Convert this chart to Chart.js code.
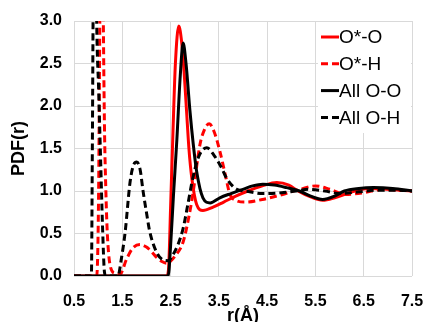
<!DOCTYPE html>
<html><head><meta charset="utf-8">
<script src="https://cdn.jsdelivr.net/npm/chart.js@4.4.1/dist/chart.umd.min.js"></script>
<style>html,body{margin:0;padding:0;background:#fff;}canvas{display:block;}</style>
</head><body>
<canvas id="c" width="426" height="322"></canvas>
<script>
const seriesLabels = ['O*-O', 'O*-H', 'All O-O', 'All O-H'];

// O*-O (red solid)
const rStarOO = [0.5, 2.42, 2.46, 2.50, 2.55, 2.60, 2.67, 2.73, 2.78, 2.83, 2.88, 2.94, 3.04, 3.17, 3.38, 3.6, 3.85, 4.1, 4.4, 4.7, 4.95, 5.14, 5.4, 5.65, 5.9, 6.2, 6.6, 7.0, 7.5];
const gStarOO = [0, 0, 0.1, 0.8, 1.7, 2.5, 2.94, 2.75, 2.4, 1.95, 1.5, 1.15, 0.84, 0.77, 0.81, 0.87, 0.94, 1.0, 1.06, 1.10, 1.07, 1.0, 0.93, 0.89, 0.92, 0.98, 1.03, 1.02, 1.0];

// O*-H (red dashed)
const rStarOH = [0.5, 0.97, 1.01, 1.04, 1.07, 1.10, 1.13, 1.16, 1.19, 1.25, 1.35, 1.45, 1.59, 1.72, 1.87, 2.0, 2.1, 2.21, 2.32, 2.42, 2.49, 2.6, 2.76, 2.88, 2.96, 3.11, 3.20, 3.30, 3.40, 3.52, 3.63, 3.73, 3.85, 4.05, 4.4, 4.76, 5.18, 5.5, 5.8, 6.13, 6.5, 6.9, 7.2, 7.5];
const gStarOH = [0, 0, 1.0, 3.5, 6.0, 3.5, 1.8, 1.0, 0.5, 0.12, 0.03, 0.02, 0.2, 0.33, 0.37, 0.34, 0.29, 0.22, 0.17, 0.15, 0.17, 0.24, 0.40, 0.70, 0.96, 1.55, 1.72, 1.79, 1.70, 1.47, 1.2, 0.96, 0.89, 0.87, 0.90, 0.95, 1.02, 1.06, 1.02, 0.96, 0.98, 1.02, 1.01, 1.0];

// All O-O (black solid)
const rAllOO = [0.5, 2.45, 2.50, 2.56, 2.63, 2.70, 2.76, 2.82, 2.90, 2.97, 3.04, 3.17, 3.32, 3.52, 3.75, 4.0, 4.2, 4.41, 4.65, 4.9, 5.17, 5.4, 5.65, 5.9, 6.1, 6.4, 6.7, 7.1, 7.5];
const gAllOO = [0, 0, 0.35, 0.95, 1.6, 2.35, 2.74, 2.5, 1.95, 1.55, 1.23, 0.92, 0.86, 0.92, 0.97, 1.02, 1.06, 1.08, 1.07, 1.04, 1.0, 0.94, 0.90, 0.94, 1.0, 1.03, 1.04, 1.03, 1.0];

// All O-H (black dashed)
const rAllOH = [0.5, 0.86, 0.88, 0.90, 0.93, 0.95, 0.97, 1.01, 1.05, 1.09, 1.13, 1.16, 1.41, 1.48, 1.56, 1.66, 1.73, 1.80, 1.87, 1.93, 2.0, 2.07, 2.21, 2.34, 2.45, 2.55, 2.66, 2.76, 2.86, 2.96, 3.08, 3.25, 3.4, 3.55, 3.66, 3.87, 4.05, 4.4, 4.8, 5.1, 5.35, 5.7, 6.0, 6.4, 6.8, 7.2, 7.5];
const gAllOH = [0, 0, 1.5, 3.5, 5.5, 4.2, 3.0, 2.2, 1.4, 0.6, 0.05, 0, 0, 0.2, 0.52, 1.1, 1.3, 1.34, 1.25, 1.0, 0.75, 0.52, 0.28, 0.19, 0.18, 0.25, 0.38, 0.56, 0.85, 1.15, 1.40, 1.51, 1.42, 1.28, 1.15, 1.02, 1.0, 0.97, 0.98, 1.0, 1.02, 1.0, 0.97, 0.99, 1.01, 1.01, 1.0];

const xTickLabels = ['0.5', '1.5', '2.5', '3.5', '4.5', '5.5', '6.5', '7.5'];
const yTickLabels = ['0.0', '0.5', '1.0', '1.5', '2.0', '2.5', '3.0'];

const toXY = (r, g) => r.map((v, i) => ({x: v, y: g[i]}));
const FONT = '"Liberation Sans", Arial, sans-serif';

const legendBox = {
  id: 'legendBox',
  afterDraw(chart) {
    const ctx = chart.ctx, a = chart.chartArea;
    ctx.save();
    ctx.fillStyle = '#fff';
    const lx = a.right - 94;
    ctx.fillRect(lx, a.top + 1, a.right - 1 - lx, 111);
    chart.data.datasets.forEach((ds, i) => {
      const y = a.top + 16 + i * 26.8;
      ctx.strokeStyle = ds.borderColor;
      ctx.lineWidth = 3;
      ctx.setLineDash(ds.borderDash || []);
      ctx.beginPath(); ctx.moveTo(lx + 3, y); ctx.lineTo(lx + 21, y); ctx.stroke();
      ctx.setLineDash([]);
      ctx.fillStyle = '#000';
      ctx.font = '19px ' + FONT;
      ctx.textBaseline = 'middle';
      ctx.textAlign = 'left';
      ctx.fillText(ds.label, lx + 21, y + 1);
    });
    ctx.restore();
  }
};

const common = {pointRadius: 0, borderWidth: 3, fill: false, cubicInterpolationMode: 'monotone'};

new Chart(document.getElementById('c'), {
  type: 'line',
  data: {
    datasets: [
      Object.assign({label: seriesLabels[0], data: toXY(rStarOO, gStarOO), borderColor: '#ff0000', order: 2}, common),
      Object.assign({label: seriesLabels[1], data: toXY(rStarOH, gStarOH), borderColor: '#ff0000', borderDash: [7, 4], order: 3}, common),
      Object.assign({label: seriesLabels[2], data: toXY(rAllOO, gAllOO), borderColor: '#000000', order: 0}, common),
      Object.assign({label: seriesLabels[3], data: toXY(rAllOH, gAllOH), borderColor: '#000000', borderDash: [7, 4], order: 1}, common)
    ]
  },
  options: {
    responsive: false,
    animation: false,
    devicePixelRatio: 1,
    layout: {padding: {top: 21, right: 14, left: 0, bottom: 0}},
    plugins: {legend: {display: false}, tooltip: {enabled: false}},
    scales: {
      x: {
        type: 'linear', min: 0.5, max: 7.5,
        afterBuildTicks: s => { s.ticks = xTickLabels.map(t => ({value: parseFloat(t)})); },
        afterFit: s => { s.height = 46; s.paddingRight = 0; s.paddingLeft = 0; },
        ticks: {callback: (v, i) => xTickLabels[i], color: '#000', font: {family: FONT, size: 16, weight: 'bold'}, padding: 16, maxRotation: 0},
        grid: {color: '#d9d9d9', lineWidth: 1, drawTicks: false},
        border: {display: false},
        title: {display: true, text: 'r(Å)', color: '#000', font: {family: FONT, size: 18, weight: 'bold'}, padding: {top: 0, bottom: -5}}
      },
      y: {
        min: 0, max: 3,
        afterBuildTicks: s => { s.ticks = yTickLabels.map(t => ({value: parseFloat(t)})); },
        afterFit: s => { s.width = 74; s.paddingTop = 0; s.paddingBottom = 0; },
        ticks: {callback: (v, i) => yTickLabels[i], color: '#000', font: {family: FONT, size: 16, weight: 'bold'}, padding: 12},
        grid: {color: '#d9d9d9', lineWidth: 1, drawTicks: false},
        border: {display: false},
        title: {display: true, text: 'PDF(r)', color: '#000', font: {family: FONT, size: 18, weight: 'bold'}, padding: {top: 8, bottom: 0}}
      }
    }
  },
  plugins: [legendBox]
});
</script>
</body></html>
